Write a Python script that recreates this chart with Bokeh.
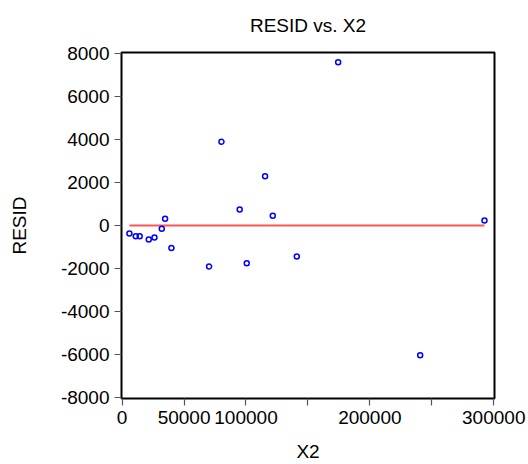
from bokeh.plotting import figure
from bokeh.models import FixedTicker, Range1d, ColumnDataSource
from bokeh.embed import file_html
from bokeh.resources import INLINE

# data
x2 = [5900, 11000, 14200, 21500, 26100, 32000, 34700, 39800, 70200, 80200,
      94900, 100600, 115400, 121600, 141000, 174400, 240600, 292500]
resid = [-370, -495, -495, -650, -560, -155, 310, -1050, -1900, 3890,
         740, -1750, 2285, 450, -1435, 7580, -6020, 230]
fit_x = [min(x2), max(x2)]
fit_y = [0, 0]

x_ticks = [0, 50000, 100000, 150000, 200000, 250000, 300000]
x_tick_labels = ["0", "50000", "100000", "", "200000", "", "300000"]
y_ticks = [-8000, -6000, -4000, -2000, 0, 2000, 4000, 6000, 8000]
y_tick_labels = ["-8000", "-6000", "-4000", "-2000", "0", "2000", "4000", "6000", "8000"]

FONT = "Liberation Sans"
FS = "19px"

p = figure(width=528, height=464, output_backend="svg", toolbar_location=None,
           x_range=Range1d(-500, 300600), y_range=Range1d(-8030, 8030),
           title="RESID vs. X2")
p.min_border_left = 121
p.min_border_right = 34
p.min_border_top = 52
p.min_border_bottom = 66

p.title.align = "center"
p.title.vertical_align = "top"
p.title.text_font = FONT
p.title.text_font_size = FS
p.title.text_font_style = "normal"
p.title.text_color = "black"
p.title.offset = 0
p.title.standoff = 29

p.grid.visible = False
p.outline_line_color = "black"
p.outline_line_width = 2
p.outline_line_alpha = 1.0

for ax in (p.xaxis[0], p.yaxis[0]):
    ax.axis_line_color = None
    ax.major_tick_in = 0
    ax.major_tick_out = 7
    ax.major_tick_line_color = "#555555"
    ax.major_tick_line_width = 1.2
    ax.minor_tick_line_color = None
    ax.major_label_text_font = FONT
    ax.major_label_text_font_size = FS
    ax.major_label_text_color = "black"
    ax.axis_label_text_font = FONT
    ax.axis_label_text_font_size = FS
    ax.axis_label_text_font_style = "normal"
    ax.axis_label_text_color = "black"

p.xaxis.ticker = FixedTicker(ticks=x_ticks)
p.xaxis.major_label_overrides = dict(zip(x_ticks, x_tick_labels))
p.yaxis.ticker = FixedTicker(ticks=y_ticks)
p.yaxis.major_label_overrides = dict(zip(y_ticks, y_tick_labels))
p.xaxis.axis_label = "X2"
p.yaxis.axis_label = "RESID"
p.xaxis.major_label_standoff = 5
p.xaxis.axis_label_standoff = 14
p.yaxis.major_label_standoff = 5
p.yaxis.axis_label_standoff = 28

p.line(fit_x, fit_y, line_color="#ff5555", line_width=2)
src = ColumnDataSource(dict(x=x2, y=resid))
p.scatter("x", "y", source=src, marker="circle", size=5, fill_color=None,
          line_color="#0000ff", line_width=1.5)

open("out.html", "w").write(file_html(p, INLINE))
